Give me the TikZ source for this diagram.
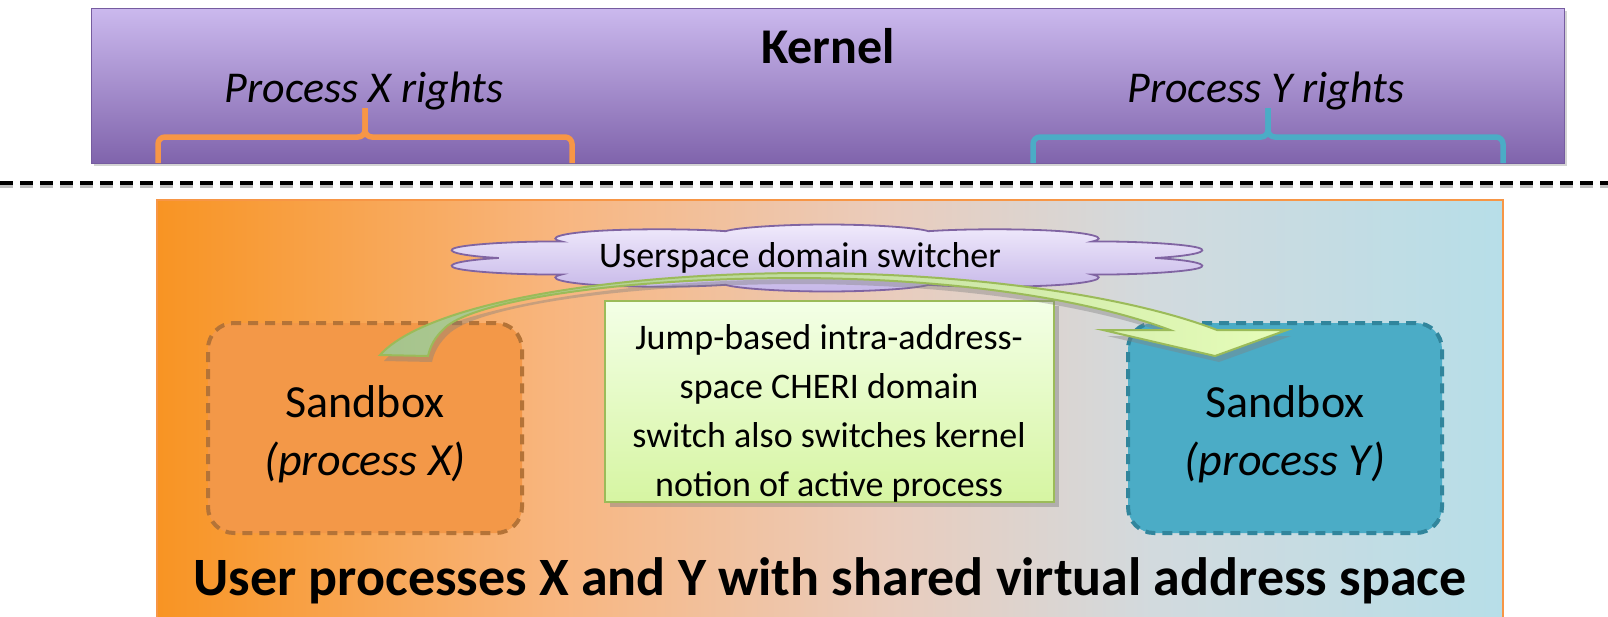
\documentclass[tikz,border=0pt]{standalone}
\usepackage{fontspec}
\setmainfont{Carlito}
\usetikzlibrary{shapes.symbols,shadows}
\definecolor{kTop}{RGB}{203,185,238}
\definecolor{kBot}{RGB}{128,100,172}
\definecolor{kBorder}{RGB}{118,92,160}
\definecolor{bOrange}{RGB}{247,150,70}
\definecolor{bBlue}{RGB}{75,172,198}
\definecolor{sbxFill}{RGB}{243,152,72}
\definecolor{sbxBorder}{RGB}{180,115,55}
\definecolor{sbyFill}{RGB}{75,172,198}
\definecolor{sbyBorder}{RGB}{49,133,156}
\definecolor{gTop}{RGB}{243,255,230}
\definecolor{gBot}{RGB}{214,245,162}
\definecolor{gBorder}{RGB}{155,187,89}
\definecolor{cTop}{RGB}{240,234,252}
\definecolor{cBot}{RGB}{198,183,232}
\definecolor{cBorder}{RGB}{128,100,162}
\definecolor{arrL}{RGB}{165,195,140}
\definecolor{arrR}{RGB}{230,253,185}
\definecolor{uA}{RGB}{248,148,35}
\definecolor{uB}{RGB}{248,182,128}
\definecolor{uC}{RGB}{234,204,188}
\definecolor{uD}{RGB}{210,218,222}
\definecolor{uE}{RGB}{183,222,232}
\definecolor{uBorder}{RGB}{247,150,70}
\pgfdeclarehorizontalshading{userbg}{100bp}{color(0bp)=(uA); color(25bp)=(uA); color(40bp)=(uB); color(52bp)=(uC); color(62bp)=(uD); color(75bp)=(uE); color(100bp)=(uE)}
\begin{document}
\begin{tikzpicture}[x=1pt,y=-1pt,
  kernelbar/.style={draw=kBorder, line width=1pt, top color=kTop, bottom color=kBot,
    drop shadow={opacity=0.35, shadow xshift=3pt, shadow yshift=-3pt}, inner sep=0pt},
  bracepath/.style={line width=5.5pt, rounded corners=7pt, line cap=butt},
  divider/.style={line width=4.5pt, dash pattern=on 13pt off 7pt,
    preaction={draw=black!25, line width=6pt, dash pattern=on 13pt off 7pt, transform canvas={yshift=-2pt}}},
  userbox/.style={draw=uBorder, line width=1.5pt, shading=userbg, inner sep=0pt},
  sandbox/.style={line width=4pt, dash pattern=on 10pt off 7pt, rounded corners=26pt,
    minimum width=314pt, minimum height=210pt, inner sep=0pt},
  sbtext/.style={font=\fontsize{46}{54}\selectfont, anchor=base},
  cloudbox/.style={cloud, cloud puffs=10, aspect=1, minimum width=100pt, minimum height=100pt,
    transform shape, draw=cBorder, line width=1.8pt, top color=cTop, bottom color=cBot, inner sep=0pt},
  greenbox/.style={draw=gBorder, line width=2pt, top color=gTop, bottom color=gBot,
    minimum width=449pt, minimum height=201pt, inner sep=0pt,
    drop shadow={opacity=0.45, shadow xshift=5pt, shadow yshift=-5pt}},
  bigarrow/.style={draw=gBorder, line width=2pt, left color=arrL, right color=arrR,
    drop shadow={opacity=0.4, shadow xshift=4pt, shadow yshift=-6pt}},
  title/.style={font=\bfseries\fontsize{50}{56}\selectfont, anchor=base},
  rights/.style={font=\itshape\fontsize{44}{50}\selectfont, anchor=base},
  gtextstyle/.style={font=\fontsize{36}{49}\selectfont, align=center, anchor=north, inner sep=0pt},
  bottomtext/.style={font=\bfseries\fontsize{54}{60}\selectfont, anchor=base}
]
\useasboundingbox (0,0) rectangle (1608,616);

% kernel
\node[kernelbar, minimum width=1473pt, minimum height=155pt] (kernel) at (827.5,85.5) {};
\node[title] (ktitle) at (828,63) {Kernel};
\node[rights] (xr) at (364,102) {Process X rights};
\node[rights] (yr) at (1266,102) {Process Y rights};

% braces
\coordinate (xbl) at (158,163); \coordinate (xbr) at (572,163);
\coordinate (xbt) at (365,108);
\draw[bracepath, bOrange] (xbl) -- (xbl |- 0,137) -- (xbt |- 0,137) -- (xbt);
\draw[bracepath, bOrange] (xbr) -- (xbr |- 0,137) -- (xbt |- 0,137) -- (xbt);
\coordinate (ybl) at (1033,163); \coordinate (ybr) at (1503,163);
\coordinate (ybt) at (1268,108);
\draw[bracepath, bBlue] (ybl) -- (ybl |- 0,137) -- (ybt |- 0,137) -- (ybt);
\draw[bracepath, bBlue] (ybr) -- (ybr |- 0,137) -- (ybt |- 0,137) -- (ybt);

% divider
\coordinate (dl) at (0,183); \coordinate (dr) at (1608,183);
\draw[divider] (dl) -- (dr);

% user space
\node[userbox, minimum width=1346pt, minimum height=425pt] (user) at (830,412.5) {};

% sandboxes
\node[sandbox, draw=sbxBorder, fill=sbxFill] (sbx) at (365,428) {};
\node[sbtext] (sbx1) at (365,417) {Sandbox};
\node[sbtext] (sbx2) at (365,475) {\itshape (process X)};
\node[sandbox, draw=sbyBorder, fill=sbyFill] (sby) at (1285,428) {};
\node[sbtext] (sby1) at (1285,417) {Sandbox};
\node[sbtext] (sby2) at (1285,475) {\itshape (process Y)};

% cloud
\begin{scope}[shift={(827,258)}, y=1pt, xscale=7.8, yscale=0.67]
\node[cloudbox] (cloud) at (0,0) {};
\end{scope}
\node[font=\fontsize{36}{40}\selectfont, anchor=base] (ctext) at (800,267) {Userspace domain switcher};

% green note
\node[greenbox] (gbox) at (829.5,401.5) {};
\node[gtextstyle] (gtext) at (829,324) {Jump-based intra-address-\\space CHERI domain\\switch also switches kernel\\notion of active process};

% curved arrow from sandbox X to sandbox Y
\coordinate (aL) at (380,355);
\coordinate (aR) at (428,356);
\coordinate (hL) at (1103,330);
\coordinate (hR) at (1287,330);
\coordinate (hT) at (1215,356);
\draw[bigarrow] (aL) .. controls (425,305) and (600,274) .. (800,273)
  .. controls (990,273) and (1140,300) .. (1217,330) -- (hR) -- (hT) -- (hL) -- (1170,330)
  .. controls (1090,300) and (960,279) .. (800,278)
  .. controls (620,278) and (480,300) .. (447,326)
  .. controls (433,338) and (430,348) .. (aR) -- cycle;

% bottom label
\node[bottomtext] (ulabel) at (830,595) {User processes X and Y with shared virtual address space};
\end{tikzpicture}
\end{document}
